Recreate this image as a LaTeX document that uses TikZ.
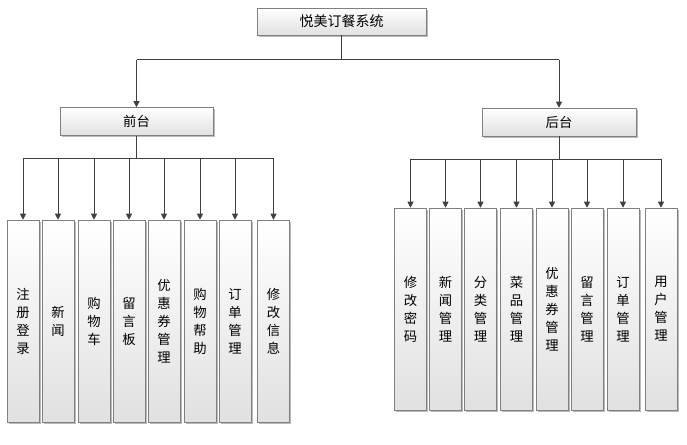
\documentclass[tikz,border=0pt]{standalone}
\usepackage{fontspec}
\setmainfont{Noto Sans CJK SC}
\usetikzlibrary{arrows.meta,shadows}
\tikzset{
	box/.style={draw=black!50, top color=white, bottom color=black!12, inner sep=0pt,
		drop shadow={shadow xshift=1.2pt, shadow yshift=-1.2pt, fill=black!45, opacity=0.6}},
	colbox/.style={box, minimum width=24pt, minimum height=151.5pt, align=center,
		font=\fontsize{10}{13.5}\selectfont},
	wire/.style={draw=black!75, line width=0.75pt},
	arr/.style={wire, -{Triangle[width=4.5pt,length=4.5pt]}}
}

\begin{document}
\begin{tikzpicture}[x=0.75pt, y=-0.75pt]
				\useasboundingbox (0, 0) rectangle (687, 445);
				
				\node[box, minimum width=126.75pt, minimum height=20.25pt, font=\fontsize{10.5}{12}\selectfont] (sys) at (341.5, 21.5) {悦美订餐系统};
				\node[box, minimum width=114.75pt, minimum height=21pt, font=\fontsize{10}{12}\selectfont] (front) at (136.5, 121.5) {前台};
				\node[box, minimum width=115.5pt, minimum height=21pt, font=\fontsize{10}{12}\selectfont] (back) at (559, 122) {后台};
				
				\node[colbox] (f1) at (23, 321) {注\\册\\登\\录};
				\node[colbox] (f2) at (58, 321) {新\\闻};
				\node[colbox] (f3) at (94, 321) {购\\物\\车};
				\node[colbox] (f4) at (129, 321) {留\\言\\板};
				\node[colbox] (f5) at (164, 321) {优\\惠\\券\\管\\理};
				\node[colbox] (f6) at (200, 321) {购\\物\\帮\\助};
				\node[colbox] (f7) at (235, 321) {订\\单\\管\\理};
				\node[colbox] (f8) at (273.5, 321) {修\\改\\信\\息};
				
				\node[colbox] (b1) at (410.5, 309) {修\\改\\密\\码};
				\node[colbox] (b2) at (445.5, 309) {新\\闻\\管\\理};
				\node[colbox] (b3) at (480.5, 309) {分\\类\\管\\理};
				\node[colbox] (b4) at (516.5, 309) {菜\\品\\管\\理};
				\node[colbox] (b5) at (552, 309) {优\\惠\\券\\管\\理};
				\node[colbox] (b6) at (587, 309) {留\\言\\管\\理};
				\node[colbox] (b7) at (623, 309) {订\\单\\管\\理};
				\node[colbox] (b8) at (661, 309) {用\\户\\管\\理};
				
				\draw[wire] (sys.south) -- ++(0, 24.5) coordinate (sj);
				\draw[wire] (sj -| front.north) -- (sj -| back.north);
				\draw[arr] (sj -| front.north) -- (front.north);
				\draw[arr] (sj -| back.north) -- (back.north);
				
				\draw[wire] (front.south) -- ++(0, 23) coordinate (fj);
				\draw[wire] (fj -| f1.north) -- (fj -| f8.north);
				\draw[arr] (fj -| f1.north) -- (f1.north);
				\draw[arr] (fj -| f2.north) -- (f2.north);
				\draw[arr] (fj -| f3.north) -- (f3.north);
				\draw[arr] (fj -| f4.north) -- (f4.north);
				\draw[arr] (fj -| f5.north) -- (f5.north);
				\draw[arr] (fj -| f6.north) -- (f6.north);
				\draw[arr] (fj -| f7.north) -- (f7.north);
				\draw[arr] (fj -| f8.north) -- (f8.north);
				
				\draw[wire] (back.south) -- ++(0, 23) coordinate (bj);
				\draw[wire] (bj -| b1.north) -- (bj -| b8.north);
				\draw[arr] (bj -| b1.north) -- (b1.north);
				\draw[arr] (bj -| b2.north) -- (b2.north);
				\draw[arr] (bj -| b3.north) -- (b3.north);
				\draw[arr] (bj -| b4.north) -- (b4.north);
				\draw[arr] (bj -| b5.north) -- (b5.north);
				\draw[arr] (bj -| b6.north) -- (b6.north);
				\draw[arr] (bj -| b7.north) -- (b7.north);
				\draw[arr] (bj -| b8.north) -- (b8.north);
			\end{tikzpicture}
\end{document}
